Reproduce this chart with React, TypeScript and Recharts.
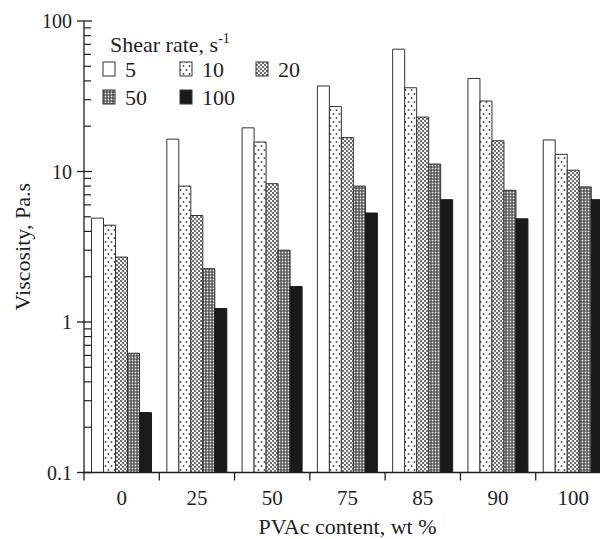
import React from 'react';
import { BarChart, Bar, XAxis, YAxis, Legend, Label } from 'recharts';

// PVAc content (wt %) categories
const CATEGORIES = ['0', '25', '50', '75', '85', '90', '100'];

// viscosity (Pa.s) at each shear rate (1/s)
const RATE_5 = [4.9, 16.4, 19.5, 37, 65, 41.5, 16.2];
const RATE_10 = [4.4, 8.0, 15.7, 27, 36, 29.4, 13.0];
const RATE_20 = [2.7, 5.1, 8.3, 16.8, 23, 16, 10.2];
const RATE_50 = [0.62, 2.26, 3.0, 8.0, 11.2, 7.5, 7.9];
const RATE_100 = [0.25, 1.23, 1.72, 5.3, 6.5, 4.85, 6.5];

const SHEAR_RATES = ['5', '10', '20', '50', '100'];
const SERIES_VALUES = [RATE_5, RATE_10, RATE_20, RATE_50, RATE_100];

const Y_MAJOR = [0.1, 1, 10, 100];
const Y_TICKS: number[] = [];
[0.1, 1, 10].forEach((d) => {
  for (let m = 1; m < 10; m++) Y_TICKS.push(+(d * m).toPrecision(3));
});
Y_TICKS.push(100);

const data = CATEGORIES.map((c, i) => {
  const row: any = { pvac: c };
  SHEAR_RATES.forEach((r, s) => {
    row['r' + r] = SERIES_VALUES[s][i];
  });
  return row;
});

const FONT = '"Liberation Serif", "Times New Roman", "DejaVu Serif", serif';
const INK = '#1e1e1e';

const FILLS = ['#ffffff', 'url(#patDots)', 'url(#patCheck)', 'url(#patDense)', '#1a1a1a'];

const W = 610;
const H = 531;
const MARGIN = { top: 13, right: 7, left: 6, bottom: 0 };
const Y_W = 70;
const X_H = 66.5;
const PLOT_W = W - MARGIN.left - MARGIN.right - Y_W;
const BAND = PLOT_W / CATEGORIES.length;

const textStyle = { fontFamily: FONT, fill: INK };

const XTick = ({ x, y, payload }: any) => (
  <g>
    <line x1={x - BAND / 2} x2={x - BAND / 2} y1={y} y2={y + 8} stroke={INK} strokeWidth={1.3} />
    <text x={x} y={y + 32} textAnchor="middle" fontSize={21} style={textStyle}>
      {payload.value}
    </text>
  </g>
);

const YTick = ({ x, y, payload }: any) => {
  const ax = x + 11;
  const major = Y_MAJOR.some((v) => Math.abs(v - payload.value) < 1e-9);
  if (!major) {
    return <line x1={ax} x2={ax + 7} y1={y} y2={y} stroke={INK} strokeWidth={1.2} />;
  }
  return (
    <g>
      <line x1={ax - 7} x2={ax + 8} y1={y} y2={y} stroke={INK} strokeWidth={1.3} />
      <text x={ax - 12} y={y + 7} textAnchor="end" fontSize={20} style={textStyle}>
        {payload.value}
      </text>
    </g>
  );
};

const LegendBox = () => {
  const cols = [95, 172, 248];
  const rows = [61, 89];
  return (
    <svg width={300} height={120} style={{ display: 'block' }}>
      <text x={102} y={44} fontSize={22} style={textStyle}>
        Shear rate, s
        <tspan dy={-9} fontSize={14}>-1</tspan>
      </text>
      {SHEAR_RATES.map((r, i) => {
        const bx = cols[i % 3];
        const by = rows[Math.floor(i / 3)];
        return (
          <g key={r}>
            <rect x={bx} y={by - 7} width={12} height={14} fill={FILLS[i]} stroke="#333" strokeWidth={1} />
            <text x={bx + 22} y={by + 7.5} fontSize={22} style={textStyle}>
              {r}
            </text>
          </g>
        );
      })}
    </svg>
  );
};

export default function App() {
  return (
    <div style={{ width: 600, height: H, overflow: 'hidden', position: 'relative', fontFamily: FONT }}>
      <BarChart
        width={W}
        height={H}
        data={data}
        margin={MARGIN}
        barCategoryGap="10%"
        barGap={0}
      >
        <defs>
          <pattern id="patDots" width={6} height={8} patternUnits="userSpaceOnUse">
            <rect width={6} height={8} fill="#ffffff" />
            <circle cx={1.5} cy={2} r={1} fill="#555" />
            <circle cx={4.5} cy={6} r={1} fill="#555" />
          </pattern>
          <pattern id="patCheck" width={4} height={4} patternUnits="userSpaceOnUse">
            <rect width={4} height={4} fill="#f4f4f4" />
            <rect x={0} y={0} width={2} height={2} fill="#707070" />
            <rect x={2} y={2} width={2} height={2} fill="#707070" />
          </pattern>
          <pattern id="patDense" width={3} height={3} patternUnits="userSpaceOnUse">
            <rect width={3} height={3} fill="#555" />
            <circle cx={1.5} cy={1.5} r={0.9} fill="#f0f0f0" />
          </pattern>
        </defs>
        <XAxis
          dataKey="pvac"
          height={X_H}
          axisLine={{ stroke: INK, strokeWidth: 1.3 }}
          tickLine={false}
          tickSize={0}
          tickMargin={0}
          interval={0}
          tick={<XTick />}
        >
          <Label
            value="PVAc content, wt %"
            position="center"
            dy={20}
            style={{ fontFamily: FONT, fontSize: 22, fill: INK }}
          />
        </XAxis>
        <XAxis
          xAxisId="top"
          dataKey="pvac"
          orientation="top"
          height={0}
          tick={false}
          tickLine={false}
          axisLine={{ stroke: INK, strokeWidth: 1.3 }}
        />
        <YAxis
          type="number"
          scale="log"
          domain={[0.1, 100]}
          allowDataOverflow
          ticks={Y_TICKS}
          interval={0}
          width={Y_W}
          tickSize={7}
          tickMargin={4}
          tickLine={false}
          axisLine={{ stroke: INK, strokeWidth: 1.3 }}
          tick={<YTick />}
        >
          <Label
            value="Viscosity, Pa.s"
            position="center"
            angle={-90}
            dx={-27}
            style={{ fontFamily: FONT, fontSize: 22, fill: INK, textAnchor: 'middle' }}
          />
        </YAxis>
        <Legend
          layout="horizontal"
          verticalAlign="middle"
          align="center"
          wrapperStyle={{ position: 'absolute', left: 0, top: 0, width: 300, height: 120 }}
          content={<LegendBox />}
        />
        {SHEAR_RATES.map((r, i) => (
          <Bar
            key={r}
            dataKey={'r' + r}
            name={r}
            fill={FILLS[i]}
            stroke={i === 4 ? '#1a1a1a' : '#333'}
            strokeWidth={1}
            isAnimationActive={false}
          />
        ))}
      </BarChart>
    </div>
  );
}
